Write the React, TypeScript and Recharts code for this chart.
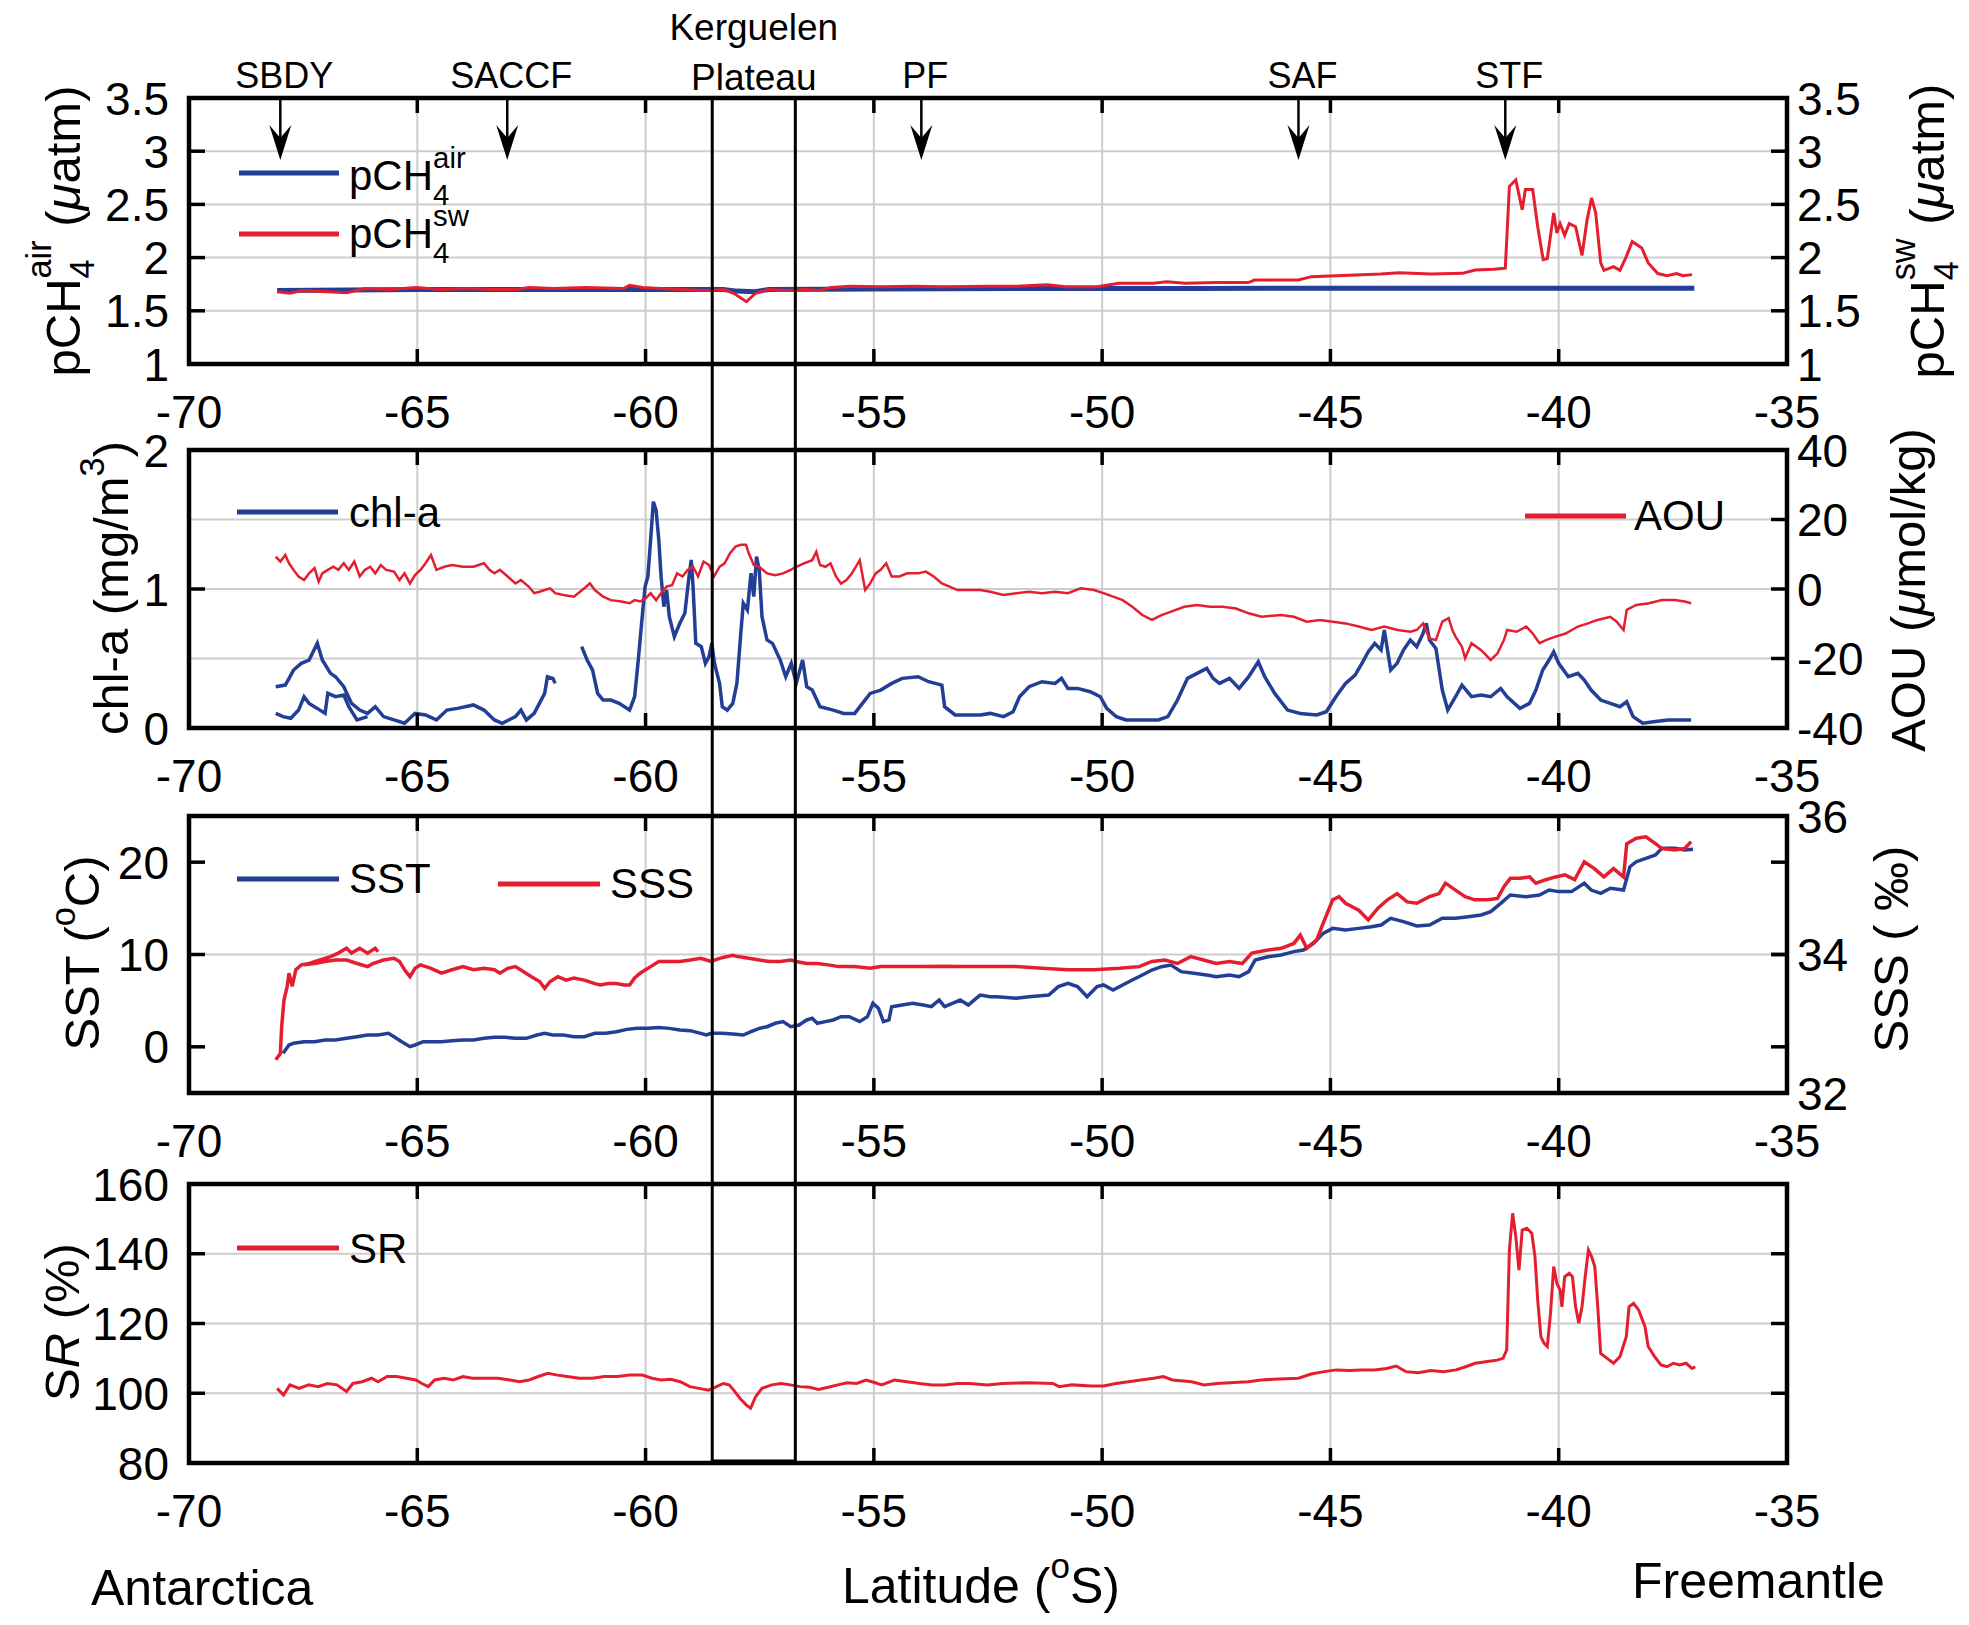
import React from 'react';
import { LineChart, Line, XAxis, YAxis, CartesianGrid, ReferenceLine, ReferenceArea, Legend } from 'recharts';

const FONT = '"Liberation Sans", Arial, Helvetica, sans-serif';
const BLUE = '#233f95';
const RED = '#e41e2e';
const GRID = '#cdcdcd';

const W = 1969;
const H = 1625;
const PL = 189;
const PR = 1787;
const AXW = 120;

// ---------- axis ticks ----------
const latTicks = [-70, -65, -60, -55, -50, -45, -40, -35];
const pchTicks = [1, 1.5, 2, 2.5, 3, 3.5];
const chlTicks = [0, 1, 2];
const aouTicks = [-40, -20, 0, 20, 40];
const sstTicks = [0, 10, 20];
const sssTicks = [32, 34, 36];
const srTicks = [80, 100, 120, 140, 160];

// ---------- annotations ----------
const fronts = [
  { name: 'SBDY', lat: -68.0 },
  { name: 'SACCF', lat: -63.03 },
  { name: 'PF', lat: -53.96 },
  { name: 'SAF', lat: -45.7 },
  { name: 'STF', lat: -41.17 },
];
const kerguelen = [-58.54, -56.72];

type Pt = [number, number | null];

// ---------- series (latitude, value) ----------
const pch4AirPts: Pt[] = [
  [-68.07, 1.69], [-66.5, 1.695], [-65.0, 1.7], [-62.0, 1.7], [-59.0, 1.7], [-58.3, 1.7], [-58.0, 1.685],
  [-57.6, 1.68], [-57.3, 1.7], [-55.0, 1.705], [-52.0, 1.71], [-48.0, 1.71], [-44.0, 1.712], [-40.0, 1.712], [-37.03, 1.712],
];

const pch4SwPts: Pt[] = [
  [-68.07, 1.68], [-67.79, 1.665], [-67.52, 1.69], [-66.97, 1.68], [-66.55, 1.67], [-66.14, 1.71], [-65.59, 1.7],
  [-65.03, 1.72], [-64.48, 1.7], [-63.93, 1.71], [-63.38, 1.7], [-62.83, 1.7], [-62.55, 1.72], [-62.0, 1.71],
  [-61.31, 1.72], [-60.48, 1.71], [-60.35, 1.74], [-60.07, 1.72], [-59.24, 1.7], [-58.69, 1.69], [-58.28, 1.7],
  [-58.07, 1.665], [-57.79, 1.586], [-57.59, 1.665], [-57.31, 1.7], [-56.9, 1.69], [-56.48, 1.7], [-56.21, 1.69],
  [-55.93, 1.72], [-55.52, 1.73], [-54.83, 1.727], [-54.14, 1.73], [-53.45, 1.727], [-52.51, 1.73], [-51.9, 1.73],
  [-51.21, 1.745], [-50.8, 1.727], [-50.11, 1.727], [-49.63, 1.758], [-48.87, 1.758], [-48.59, 1.774], [-48.18, 1.758],
  [-47.49, 1.765], [-46.8, 1.765], [-46.66, 1.789], [-45.7, 1.789], [-45.42, 1.821], [-45.01, 1.827], [-44.45, 1.836],
  [-43.9, 1.846], [-43.49, 1.858], [-42.8, 1.846], [-42.11, 1.852], [-41.83, 1.884], [-41.42, 1.89], [-41.17, 1.9],
  [-41.08, 2.67], [-40.94, 2.73], [-40.8, 2.45], [-40.73, 2.64], [-40.57, 2.64], [-40.46, 2.29], [-40.34, 1.98],
  [-40.25, 1.99], [-40.11, 2.42], [-40.04, 2.23], [-39.97, 2.32], [-39.87, 2.21], [-39.77, 2.32], [-39.63, 2.29],
  [-39.49, 2.02], [-39.38, 2.35], [-39.28, 2.56], [-39.19, 2.42], [-39.08, 1.95], [-39.01, 1.88], [-38.8, 1.915],
  [-38.66, 1.88], [-38.52, 2.01], [-38.39, 2.15], [-38.18, 2.09], [-38.04, 1.95], [-37.83, 1.85], [-37.63, 1.83],
  [-37.42, 1.85], [-37.28, 1.83], [-37.08, 1.84],
];

const chlPts: Pt[] = [
  // first pass
  [-68.1, 0.297], [-67.89, 0.309], [-67.71, 0.417], [-67.54, 0.465], [-67.37, 0.489], [-67.19, 0.609], [-67.08, 0.489],
  [-66.9, 0.393], [-66.79, 0.369], [-66.61, 0.297], [-66.44, 0.177], [-66.26, 0.129], [-66.09, 0.105], [-65.92, 0.153],
  [-65.74, 0.082], [-65.51, 0.058], [-65.28, 0.034], [-65.05, 0.105], [-64.82, 0.094], [-64.58, 0.058], [-64.35, 0.129],
  [-64.12, 0.141], [-63.77, 0.166], [-63.54, 0.129], [-63.31, 0.058], [-63.14, 0.034], [-62.85, 0.082], [-62.73, 0.129],
  [-62.61, 0.058], [-62.44, 0.105], [-62.21, 0.249], [-62.15, 0.369], [-62.03, 0.357], [-61.98, 0.321],
  [-61.95, null],
  // second pass near the ice edge
  [-68.1, 0.105], [-67.94, 0.082], [-67.77, 0.07], [-67.6, 0.129], [-67.48, 0.225], [-67.37, 0.177], [-67.19, 0.141],
  [-67.02, 0.105], [-66.96, 0.249], [-66.79, 0.225], [-66.61, 0.237], [-66.5, 0.153], [-66.32, 0.058], [-66.09, 0.082],
  [-66.0, null],
  // main track
  [-61.4, 0.585], [-61.28, 0.489], [-61.16, 0.417], [-61.05, 0.249], [-60.93, 0.201], [-60.76, 0.201], [-60.58, 0.177],
  [-60.35, 0.129], [-60.24, 0.225], [-60.16, 0.489], [-60.06, 0.849], [-60.01, 1.017], [-59.95, 1.089], [-59.89, 1.352],
  [-59.83, 1.628], [-59.77, 1.568], [-59.71, 1.352], [-59.66, 1.089], [-59.6, 0.873], [-59.54, 0.993], [-59.48, 0.801],
  [-59.37, 0.657], [-59.25, 0.753], [-59.14, 0.825], [-59.04, 1.113], [-59.0, 1.209], [-58.96, 1.017], [-58.9, 0.609],
  [-58.78, 0.585], [-58.69, 0.465], [-58.61, 0.513], [-58.55, 0.609], [-58.49, 0.465], [-58.38, 0.321], [-58.32, 0.153],
  [-58.21, 0.129], [-58.09, 0.177], [-58.0, 0.321], [-57.92, 0.657], [-57.86, 0.897], [-57.77, 0.849], [-57.69, 1.113],
  [-57.63, 0.945], [-57.57, 1.233], [-57.51, 1.137], [-57.45, 0.801], [-57.34, 0.633], [-57.22, 0.609], [-57.05, 0.489],
  [-56.93, 0.369], [-56.81, 0.465], [-56.7, 0.321], [-56.56, 0.489], [-56.47, 0.297], [-56.35, 0.273], [-56.18, 0.153],
  [-55.89, 0.129], [-55.66, 0.105], [-55.42, 0.105], [-55.25, 0.177], [-55.08, 0.249], [-54.85, 0.273], [-54.61, 0.321],
  [-54.38, 0.357], [-54.03, 0.369], [-53.8, 0.333], [-53.51, 0.309], [-53.45, 0.153], [-53.22, 0.094], [-52.67, 0.094],
  [-52.45, 0.105], [-52.16, 0.082], [-51.95, 0.117], [-51.81, 0.225], [-51.6, 0.297], [-51.32, 0.333], [-51.03, 0.321],
  [-50.89, 0.357], [-50.75, 0.285], [-50.54, 0.285], [-50.26, 0.261], [-50.04, 0.225], [-49.9, 0.141], [-49.69, 0.082],
  [-49.48, 0.058], [-49.2, 0.058], [-48.77, 0.058], [-48.56, 0.082], [-48.35, 0.201], [-48.13, 0.357], [-47.92, 0.393],
  [-47.71, 0.429], [-47.57, 0.357], [-47.43, 0.321], [-47.21, 0.357], [-47.0, 0.285], [-46.79, 0.369], [-46.58, 0.477],
  [-46.44, 0.369], [-46.22, 0.249], [-45.94, 0.129], [-45.66, 0.105], [-45.3, 0.094], [-45.09, 0.117], [-44.88, 0.225],
  [-44.67, 0.321], [-44.46, 0.381], [-44.31, 0.465], [-44.17, 0.549], [-44.03, 0.609], [-43.89, 0.561], [-43.82, 0.705],
  [-43.68, 0.417], [-43.54, 0.465], [-43.4, 0.561], [-43.25, 0.633], [-43.11, 0.585], [-42.97, 0.681], [-42.9, 0.753],
  [-42.83, 0.633], [-42.69, 0.573], [-42.55, 0.273], [-42.43, 0.129], [-42.26, 0.225], [-42.12, 0.309], [-41.91, 0.225],
  [-41.7, 0.237], [-41.49, 0.225], [-41.27, 0.285], [-41.13, 0.225], [-40.85, 0.141], [-40.64, 0.177], [-40.5, 0.273],
  [-40.35, 0.417], [-40.21, 0.489], [-40.11, 0.549], [-40.0, 0.465], [-39.79, 0.369], [-39.58, 0.393], [-39.44, 0.345],
  [-39.29, 0.273], [-39.08, 0.201], [-38.87, 0.177], [-38.66, 0.153], [-38.51, 0.189], [-38.37, 0.082], [-38.16, 0.034],
  [-37.88, 0.046], [-37.6, 0.058], [-37.31, 0.058], [-37.1, 0.058],
];

const aouPts: Pt[] = [
  [-68.1, 9.3], [-68.0, 7.9], [-67.89, 9.8], [-67.81, 7.4], [-67.71, 5.5], [-67.6, 3.6], [-67.48, 2.6], [-67.37, 4.5],
  [-67.25, 6.0], [-67.16, 2.1], [-67.08, 4.5], [-66.96, 5.5], [-66.84, 6.4], [-66.73, 5.5], [-66.61, 7.4], [-66.5, 5.5],
  [-66.38, 7.9], [-66.26, 3.6], [-66.15, 5.5], [-66.03, 6.4], [-65.92, 4.5], [-65.8, 6.9], [-65.68, 5.5], [-65.51, 5.0],
  [-65.39, 2.6], [-65.28, 4.5], [-65.16, 1.6], [-65.05, 4.0], [-64.93, 5.5], [-64.82, 7.4], [-64.7, 9.8], [-64.58, 5.5],
  [-64.41, 6.4], [-64.24, 6.9], [-64.0, 6.4], [-63.77, 6.4], [-63.54, 7.4], [-63.42, 5.5], [-63.31, 4.5], [-63.19, 5.5],
  [-63.02, 3.6], [-62.85, 1.6], [-62.73, 2.6], [-62.56, 0.7], [-62.44, -1.2], [-62.32, -0.8], [-62.21, -0.3], [-62.09, 0.2],
  [-61.98, -1.2], [-61.8, -1.7], [-61.57, -2.2], [-61.34, 0.2], [-61.22, 1.6], [-61.11, -0.3], [-60.93, -2.2], [-60.76, -3.2],
  [-60.53, -3.6], [-60.35, -4.1], [-60.24, -3.2], [-60.12, -3.6], [-60.0, -2.7], [-59.89, -1.2], [-59.77, -3.2], [-59.66, -1.2],
  [-59.54, 0.7], [-59.42, 1.1], [-59.31, 4.5], [-59.19, 3.6], [-59.08, 5.5], [-58.96, 6.4], [-58.85, 3.6], [-58.73, 7.9],
  [-58.61, 6.9], [-58.5, 3.6], [-58.38, 6.4], [-58.27, 7.4], [-58.15, 10.3], [-58.03, 12.2], [-57.92, 12.7], [-57.8, 12.7],
  [-57.74, 10.3], [-57.63, 6.9], [-57.51, 6.4], [-57.34, 4.5], [-57.16, 4.0], [-56.99, 4.5], [-56.82, 5.5], [-56.7, 6.4],
  [-56.53, 7.4], [-56.35, 8.3], [-56.26, 10.7], [-56.18, 6.9], [-56.06, 6.4], [-55.95, 7.4], [-55.83, 3.6], [-55.72, 1.6],
  [-55.6, 2.6], [-55.48, 4.5], [-55.31, 8.3], [-55.19, -0.3], [-55.08, 1.6], [-54.96, 4.5], [-54.85, 5.5], [-54.73, 7.4],
  [-54.61, 3.6], [-54.44, 3.6], [-54.27, 4.5], [-54.03, 4.5], [-53.86, 5.0], [-53.69, 3.6], [-53.51, 1.6], [-53.34, 0.7],
  [-53.17, -0.3], [-52.93, -0.3], [-52.67, -0.3], [-52.45, -0.8], [-52.16, -1.7], [-51.88, -1.2], [-51.6, -0.8],
  [-51.32, -1.2], [-51.03, -0.8], [-50.75, -1.2], [-50.47, 0.2], [-50.18, -0.3], [-49.97, -1.2], [-49.76, -2.2],
  [-49.55, -3.2], [-49.34, -5.1], [-49.12, -7.5], [-48.91, -8.9], [-48.7, -7.5], [-48.49, -6.5], [-48.2, -5.1],
  [-47.92, -4.6], [-47.64, -5.1], [-47.36, -5.1], [-47.07, -5.6], [-46.79, -7.0], [-46.51, -8.0], [-46.08, -7.5],
  [-45.8, -8.0], [-45.52, -9.4], [-45.23, -8.9], [-44.95, -9.4], [-44.67, -9.9], [-44.38, -10.8], [-44.1, -11.8],
  [-43.82, -10.8], [-43.53, -11.8], [-43.25, -12.3], [-43.11, -11.8], [-42.97, -9.9], [-42.83, -14.2], [-42.69, -14.7],
  [-42.55, -9.4], [-42.41, -8.4], [-42.33, -11.8], [-42.26, -13.7], [-42.12, -16.6], [-42.05, -19.9], [-41.91, -15.6],
  [-41.7, -17.6], [-41.49, -20.4], [-41.34, -18.5], [-41.2, -14.7], [-41.13, -11.8], [-40.92, -12.3], [-40.71, -10.8],
  [-40.57, -12.8], [-40.42, -15.6], [-40.28, -14.7], [-40.07, -13.7], [-39.85, -12.8], [-39.58, -10.8], [-39.36, -9.9],
  [-39.15, -8.9], [-38.87, -8.0], [-38.73, -9.4], [-38.58, -11.8], [-38.51, -6.0], [-38.3, -4.6], [-38.02, -4.1],
  [-37.74, -3.2], [-37.46, -3.2], [-37.24, -3.6], [-37.1, -4.1],
];

const sstPts: Pt[] = [
  [-67.94, -0.7], [-67.81, 0.2], [-67.71, 0.38], [-67.48, 0.56], [-67.25, 0.56], [-67.02, 0.74], [-66.79, 0.74],
  [-66.55, 0.92], [-66.32, 1.1], [-66.09, 1.28], [-65.86, 1.28], [-65.63, 1.46], [-65.51, 1.1], [-65.34, 0.56],
  [-65.16, 0.02], [-65.05, 0.2], [-64.87, 0.56], [-64.7, 0.56], [-64.47, 0.56], [-64.24, 0.67], [-64.0, 0.74],
  [-63.77, 0.74], [-63.54, 0.92], [-63.31, 1.03], [-63.08, 1.03], [-62.85, 0.92], [-62.61, 0.92], [-62.38, 1.28],
  [-62.21, 1.46], [-62.03, 1.28], [-61.8, 1.28], [-61.57, 1.1], [-61.34, 1.1], [-61.11, 1.46], [-60.87, 1.46],
  [-60.64, 1.64], [-60.41, 1.89], [-60.18, 2.0], [-59.95, 2.0], [-59.71, 2.08], [-59.48, 2.0], [-59.25, 1.82],
  [-59.02, 1.75], [-58.79, 1.46], [-58.67, 1.28], [-58.56, 1.46], [-58.32, 1.46], [-58.09, 1.39], [-57.86, 1.28],
  [-57.69, 1.64], [-57.51, 2.0], [-57.34, 2.18], [-57.16, 2.55], [-56.99, 2.73], [-56.82, 2.18], [-56.64, 2.36],
  [-56.47, 2.91], [-56.35, 3.09], [-56.24, 2.55], [-56.06, 2.73], [-55.89, 2.91], [-55.72, 3.27], [-55.54, 3.27],
  [-55.31, 2.73], [-55.14, 3.27], [-55.02, 4.71], [-54.9, 4.17], [-54.79, 2.73], [-54.67, 2.91], [-54.61, 4.35],
  [-54.38, 4.53], [-54.15, 4.71], [-53.92, 4.53], [-53.74, 4.35], [-53.57, 5.07], [-53.45, 4.35], [-53.28, 4.71],
  [-53.11, 5.07], [-52.93, 4.53], [-52.76, 5.25], [-52.67, 5.61], [-52.45, 5.43], [-52.31, 5.43], [-51.88, 5.25],
  [-51.6, 5.43], [-51.17, 5.61], [-50.96, 6.52], [-50.75, 6.88], [-50.54, 6.52], [-50.33, 5.43], [-50.11, 6.52],
  [-49.97, 6.7], [-49.76, 6.16], [-49.55, 6.7], [-49.34, 7.24], [-49.12, 7.78], [-48.91, 8.32], [-48.7, 8.68],
  [-48.49, 8.86], [-48.27, 8.14], [-47.99, 7.96], [-47.71, 7.78], [-47.5, 7.6], [-47.21, 7.78], [-47.0, 7.6],
  [-46.79, 8.14], [-46.65, 9.4], [-46.37, 9.76], [-46.08, 9.95], [-45.8, 10.31], [-45.59, 10.49], [-45.37, 11.21],
  [-45.16, 12.29], [-44.95, 12.83], [-44.67, 12.65], [-44.38, 12.83], [-44.1, 13.01], [-43.89, 13.19], [-43.68, 13.92],
  [-43.4, 13.56], [-43.11, 13.09], [-42.83, 13.19], [-42.55, 13.92], [-42.26, 13.92], [-41.98, 14.1], [-41.7, 14.28],
  [-41.49, 14.64], [-41.27, 15.54], [-41.06, 16.44], [-40.71, 16.26], [-40.42, 16.44], [-40.21, 16.98], [-40.0, 16.81],
  [-39.72, 16.81], [-39.44, 17.71], [-39.29, 16.98], [-39.08, 16.62], [-38.87, 17.17], [-38.58, 16.98], [-38.44, 19.51],
  [-38.3, 20.05], [-38.09, 20.42], [-37.88, 20.78], [-37.74, 21.5], [-37.46, 21.5], [-37.24, 21.32], [-37.06, 21.39],
];

const sssPts: Pt[] = [
  // rise off the ice edge and first pass
  [-68.1, 32.48], [-68.0, 32.57], [-67.97, 32.96], [-67.92, 33.34], [-67.85, 33.54], [-67.81, 33.73], [-67.74, 33.54],
  [-67.66, 33.78], [-67.54, 33.85], [-67.37, 33.87], [-67.13, 33.92], [-66.9, 33.97], [-66.73, 34.02], [-66.55, 34.09],
  [-66.44, 34.02], [-66.26, 34.09], [-66.09, 34.02], [-65.92, 34.09], [-65.86, 34.04],
  [-65.8, null],
  // main track
  [-67.48, 33.85], [-67.25, 33.87], [-67.02, 33.9], [-66.79, 33.92], [-66.55, 33.92], [-66.32, 33.87], [-66.09, 33.825],
  [-65.97, 33.87], [-65.74, 33.92], [-65.51, 33.945], [-65.39, 33.9], [-65.28, 33.78], [-65.16, 33.68], [-65.05, 33.8],
  [-64.93, 33.85], [-64.7, 33.8], [-64.47, 33.73], [-64.24, 33.78], [-64.0, 33.825], [-63.77, 33.78], [-63.54, 33.8],
  [-63.31, 33.78], [-63.19, 33.73], [-63.02, 33.8], [-62.85, 33.825], [-62.67, 33.75], [-62.5, 33.68], [-62.32, 33.61],
  [-62.21, 33.51], [-62.09, 33.61], [-61.92, 33.68], [-61.74, 33.63], [-61.57, 33.66], [-61.34, 33.63], [-61.11, 33.58],
  [-60.99, 33.56], [-60.82, 33.58], [-60.64, 33.58], [-60.47, 33.56], [-60.35, 33.56], [-60.24, 33.66], [-60.12, 33.73],
  [-60.0, 33.78], [-59.89, 33.825], [-59.71, 33.9], [-59.48, 33.9], [-59.25, 33.9], [-59.02, 33.92], [-58.79, 33.945],
  [-58.67, 33.92], [-58.56, 33.9], [-58.38, 33.945], [-58.21, 33.97], [-58.09, 33.99], [-57.98, 33.97], [-57.74, 33.945],
  [-57.51, 33.92], [-57.28, 33.9], [-57.05, 33.9], [-56.82, 33.92], [-56.7, 33.9], [-56.47, 33.87], [-56.24, 33.87],
  [-56.0, 33.85], [-55.77, 33.825], [-55.43, 33.825], [-55.08, 33.8], [-54.85, 33.825], [-54.38, 33.825], [-53.92, 33.825],
  [-53.45, 33.83], [-53.11, 33.825], [-52.67, 33.825], [-52.45, 33.825], [-51.88, 33.825], [-51.32, 33.8], [-50.75, 33.78],
  [-50.18, 33.78], [-49.62, 33.8], [-49.19, 33.825], [-48.91, 33.9], [-48.63, 33.92], [-48.35, 33.87], [-48.06, 33.97],
  [-47.78, 33.92], [-47.5, 33.87], [-47.21, 33.9], [-46.93, 33.87], [-46.72, 34.02], [-46.37, 34.065], [-46.08, 34.09],
  [-45.8, 34.16], [-45.66, 34.28], [-45.52, 34.09], [-45.3, 34.21], [-45.16, 34.45], [-44.95, 34.79], [-44.81, 34.835],
  [-44.67, 34.74], [-44.38, 34.64], [-44.17, 34.5], [-43.96, 34.67], [-43.75, 34.79], [-43.54, 34.88], [-43.32, 34.76],
  [-43.11, 34.74], [-42.83, 34.835], [-42.62, 34.88], [-42.48, 35.03], [-42.26, 34.93], [-42.05, 34.835], [-41.84, 34.79],
  [-41.56, 34.79], [-41.34, 34.81], [-41.2, 34.98], [-41.06, 35.1], [-40.85, 35.1], [-40.64, 35.12], [-40.5, 35.03],
  [-40.28, 35.08], [-40.07, 35.12], [-39.86, 35.15], [-39.65, 35.08], [-39.44, 35.34], [-39.22, 35.24], [-39.01, 35.12],
  [-38.8, 35.24], [-38.58, 35.12], [-38.51, 35.6], [-38.3, 35.68], [-38.09, 35.7], [-37.88, 35.6], [-37.74, 35.53],
  [-37.46, 35.51], [-37.24, 35.53], [-37.1, 35.63],
];

const srPts: Pt[] = [
  [-68.07, 101.4], [-67.93, 99.5], [-67.79, 102.4], [-67.59, 101.4], [-67.38, 102.4], [-67.17, 101.9], [-66.97, 102.8],
  [-66.76, 102.4], [-66.55, 100.5], [-66.41, 102.8], [-66.21, 103.3], [-66.0, 104.3], [-65.86, 103.3], [-65.66, 104.8],
  [-65.45, 104.8], [-65.24, 104.3], [-65.03, 103.8], [-64.9, 102.8], [-64.76, 101.9], [-64.62, 103.8], [-64.41, 104.3],
  [-64.21, 103.8], [-64.0, 104.8], [-63.79, 104.3], [-63.52, 104.3], [-63.24, 104.3], [-62.97, 103.8], [-62.76, 103.3],
  [-62.55, 103.8], [-62.35, 104.8], [-62.14, 105.7], [-61.93, 105.2], [-61.72, 104.8], [-61.45, 104.3], [-61.17, 104.3],
  [-60.9, 104.8], [-60.62, 104.8], [-60.35, 105.2], [-60.07, 105.2], [-59.86, 104.3], [-59.66, 103.8], [-59.45, 104.0],
  [-59.24, 103.3], [-59.03, 101.9], [-58.83, 101.4], [-58.62, 100.9], [-58.48, 101.7], [-58.3, 102.8], [-58.17, 102.4],
  [-58.07, 100.9], [-57.93, 98.5], [-57.79, 96.6], [-57.7, 95.7], [-57.59, 99.0], [-57.45, 101.4], [-57.24, 102.4],
  [-57.03, 102.8], [-56.83, 102.4], [-56.62, 101.9], [-56.41, 101.7], [-56.21, 101.1], [-56.0, 101.7], [-55.79, 102.4],
  [-55.59, 103.0], [-55.38, 102.8], [-55.17, 103.8], [-54.97, 103.0], [-54.83, 102.4], [-54.55, 103.8], [-54.28, 103.3],
  [-54.0, 102.8], [-53.72, 102.4], [-53.45, 102.4], [-53.17, 102.8], [-52.9, 102.8], [-52.51, 102.4], [-52.18, 102.8],
  [-51.63, 103.0], [-51.08, 102.8], [-50.94, 101.9], [-50.66, 102.4], [-50.25, 102.1], [-49.97, 102.1], [-49.7, 102.8],
  [-49.42, 103.3], [-49.15, 103.8], [-48.87, 104.3], [-48.66, 104.8], [-48.46, 103.8], [-48.04, 103.3], [-47.77, 102.4],
  [-47.49, 102.8], [-47.21, 103.0], [-46.8, 103.3], [-46.52, 103.8], [-46.25, 104.0], [-45.7, 104.3], [-45.42, 105.5],
  [-45.14, 106.2], [-44.87, 106.7], [-44.59, 106.5], [-44.32, 106.7], [-44.04, 106.7], [-43.77, 107.1], [-43.56, 107.8],
  [-43.35, 106.2], [-43.08, 105.9], [-42.8, 106.5], [-42.52, 106.2], [-42.25, 106.7], [-42.04, 107.6], [-41.83, 108.6],
  [-41.56, 109.1], [-41.35, 109.5], [-41.22, 110.0], [-41.14, 112.4], [-41.08, 141.1], [-41.01, 151.6], [-40.94, 144.9],
  [-40.87, 135.3], [-40.8, 146.8], [-40.7, 147.3], [-40.59, 145.9], [-40.52, 139.2], [-40.46, 126.7], [-40.39, 116.2],
  [-40.32, 114.3], [-40.25, 113.4], [-40.18, 122.9], [-40.11, 136.3], [-40.04, 131.5], [-39.97, 129.6], [-39.93, 124.8],
  [-39.87, 133.4], [-39.77, 134.4], [-39.7, 133.4], [-39.63, 124.8], [-39.56, 120.1], [-39.49, 124.8], [-39.42, 133.4],
  [-39.35, 141.1], [-39.28, 139.2], [-39.21, 136.3], [-39.15, 125.8], [-39.08, 111.4], [-38.94, 110.0], [-38.8, 108.6],
  [-38.66, 110.5], [-38.52, 116.2], [-38.46, 124.8], [-38.36, 125.8], [-38.25, 123.9], [-38.11, 119.1], [-38.04, 113.4],
  [-37.9, 110.5], [-37.76, 108.1], [-37.63, 107.6], [-37.49, 108.6], [-37.35, 108.1], [-37.21, 108.6], [-37.08, 107.1],
  [-37.01, 107.6],
];

const rows = (pts: Pt[]) => pts.map(([lat, v]) => ({ lat, v }));

// ---------- text helpers ----------
type Part = { t: string; k?: 'sub' | 'sup' | 'it'; back?: number };

function RichText(props: {
  x: number; y: number; size: number; parts: Part[]; rotate?: boolean; anchor?: 'start' | 'middle' | 'end';
  subDy?: number; supDy?: number;
}) {
  const { x, y, size, parts, rotate = false, anchor = 'start', subDy = 0.32, supDy = -0.55 } = props;
  let shift = 0;
  const spans = parts.map((p, i) => {
    const small = p.k === 'sub' || p.k === 'sup';
    const target = p.k === 'sub' ? subDy * size : p.k === 'sup' ? supDy * size : 0;
    const dy = target - shift;
    shift = target;
    const dx = p.back ? -p.back * size * 0.7 : 0;
    return (
      <tspan key={i} dx={dx || undefined} dy={dy || undefined} fontSize={small ? size * 0.7 : size}
        fontStyle={p.k === 'it' ? 'italic' : undefined}>{p.t}</tspan>
    );
  });
  return (
    <text x={x} y={y} transform={rotate ? `rotate(-90 ${x} ${y})` : undefined} textAnchor={anchor}
      fontFamily={FONT} fontSize={size} fill="#000" style={{ whiteSpace: 'pre' }}>{spans}</text>
  );
}

// ---------- tick renderers ----------
const xTick = (pt: number, pb: number) => (props: any) => {
  const { x, payload } = props;
  return (
    <g>
      <line x1={x} x2={x} y1={pb} y2={pb - 15} stroke="#000" strokeWidth={3.5} />
      <line x1={x} x2={x} y1={pt} y2={pt + 15} stroke="#000" strokeWidth={3.5} />
      <text x={x} y={pb + 64} textAnchor="middle" fontFamily={FONT} fontSize={46} fill="#000">{payload.value}</text>
    </g>
  );
};

const yTick = (side: 'left' | 'right', mirror: boolean) => (props: any) => {
  const { y, payload } = props;
  const onLeft = side === 'left' || mirror;
  const onRight = side === 'right' || mirror;
  return (
    <g>
      {onLeft && <line x1={PL} x2={PL + 16} y1={y} y2={y} stroke="#000" strokeWidth={3.5} />}
      {onRight && <line x1={PR} x2={PR - 16} y1={y} y2={y} stroke="#000" strokeWidth={3.5} />}
      <text x={side === 'left' ? PL - 20 : PR + 10} y={y} dy="0.36em" textAnchor={side === 'left' ? 'end' : 'start'}
        fontFamily={FONT} fontSize={46} fill="#000">{payload.value}</text>
    </g>
  );
};

// ---------- legend ----------
type LegendSpec = { name: string; x1: number; x2: number; y: number; tx: number; ty: number; parts: Part[] };

const makeLegend = (chartTop: number, height: number, specs: LegendSpec[]) => (props: any) => {
  const payload: any[] = props.payload || [];
  return (
    <svg width={W} height={height} style={{ position: 'absolute', left: 0, top: 0, overflow: 'visible' }}>
      {specs.map((s) => {
        const entry = payload.find((e) => e.value === s.name);
        const color = entry ? entry.color : '#000';
        return (
          <g key={s.name}>
            <line x1={s.x1} x2={s.x2} y1={s.y - chartTop} y2={s.y - chartTop} stroke={color} strokeWidth={5} />
            <RichText x={s.tx} y={s.ty - chartTop} size={42} parts={s.parts} subDy={0.36} supDy={-0.52} />
          </g>
        );
      })}
    </svg>
  );
};

const legendWrap = (height: number) => ({
  position: 'absolute' as const, left: 0, top: 0, width: W, height, pointerEvents: 'none' as const,
});

// ---------- front arrows ----------
const frontShape = (name: string) => (p: any) => {
  const x = p.x1;
  const top = Math.min(p.y1, p.y2);
  return (
    <g>
      <line x1={x} x2={x} y1={top} y2={top + 50} stroke="#000" strokeWidth={2.5} />
      <path d={`M ${x} ${top + 62} L ${x - 11} ${top + 27} L ${x} ${top + 40} L ${x + 11} ${top + 27} Z`} fill="#000" />
      <text x={x + 4} y={88} textAnchor="middle" fontFamily={FONT} fontSize={36} fill="#000">{name}</text>
    </g>
  );
};

const lineCommon = { type: 'linear' as const, dot: false, activeDot: false, isAnimationActive: false, dataKey: 'v' };
const axisCommon = { tickLine: false, axisLine: false, interval: 0 as const, allowDataOverflow: true };

export default function App() {
  // panel 1 (plot 98..364)
  const c1Top = 0, c1H = 444, p1T = 98, p1B = 364;
  // panel 2 (plot 450..728)
  const c2Top = 410, c2H = 398, p2T = 40, p2B = 318;
  // panel 3 (plot 816..1093)
  const c3Top = 776, c3H = 397, p3T = 40, p3B = 317;
  // panel 4 (plot 1184..1463)
  const c4Top = 1144, c4H = 481, p4T = 40, p4B = 319;

  const mBase = { left: PL - AXW, right: W - PR - AXW };

  return (
    <div style={{ position: 'absolute', left: 0, top: 0, width: W, height: H, background: '#fff', overflow: 'hidden' }}>
      {/* Panel 1: pCH4 */}
      <div style={{ position: 'absolute', left: 0, top: c1Top }}>
        <LineChart width={W} height={c1H} margin={{ top: p1T, bottom: 0, ...mBase }}>
          <CartesianGrid yAxisId="left" stroke={GRID} strokeWidth={2} />
          <XAxis dataKey="lat" type="number" domain={[-70, -35]} ticks={latTicks} height={80} {...axisCommon}
            tick={xTick(p1T, p1B)} />
          <YAxis yAxisId="left" type="number" domain={[1, 3.5]} ticks={pchTicks} width={AXW} {...axisCommon}
            tick={yTick('left', false)}
            label={() => (
              <RichText x={80} y={231 - c1Top} size={49} rotate anchor="middle" supDy={-0.6} subDy={0.28}
                parts={[{ t: 'pCH' }, { t: '4', k: 'sub' }, { t: 'air', k: 'sup', back: 0.556 }, { t: ' (' }, { t: 'μ', k: 'it' }, { t: 'atm)' }]} />
            )} />
          <YAxis yAxisId="right" orientation="right" type="number" domain={[1, 3.5]} ticks={pchTicks} width={AXW} {...axisCommon}
            tick={yTick('right', false)}
            label={() => (
              <RichText x={1944} y={231 - c1Top} size={49} rotate anchor="middle" supDy={-0.6} subDy={0.28}
                parts={[{ t: 'pCH' }, { t: '4', k: 'sub' }, { t: 'sw', k: 'sup', back: 0.556 }, { t: ' (' }, { t: 'μ', k: 'it' }, { t: 'atm)' }]} />
            )} />
          <Line yAxisId="left" data={rows(pch4AirPts)} name="pCH4air" stroke={BLUE} strokeWidth={5} {...lineCommon} />
          <Line yAxisId="right" data={rows(pch4SwPts)} name="pCH4sw" stroke={RED} strokeWidth={3} {...lineCommon} />
          {fronts.map((f) => (
            <ReferenceLine key={f.name} x={f.lat} yAxisId="left" stroke="#000" ifOverflow="visible" shape={frontShape(f.name)} />
          ))}
          <ReferenceArea x1={-70} x2={-35} y1={1} y2={3.5} yAxisId="left" fill="none" fillOpacity={0} stroke="#000" strokeWidth={4.5} ifOverflow="visible" />
          <Legend layout="horizontal" verticalAlign="middle" align="center" wrapperStyle={legendWrap(c1H)}
            content={makeLegend(c1Top, c1H, [
              { name: 'pCH4air', x1: 239, x2: 339, y: 173, tx: 349, ty: 190, parts: [{ t: 'pCH' }, { t: '4', k: 'sub' }, { t: 'air', k: 'sup', back: 0.556 }] },
              { name: 'pCH4sw', x1: 239, x2: 339, y: 234, tx: 349, ty: 248, parts: [{ t: 'pCH' }, { t: '4', k: 'sub' }, { t: 'sw', k: 'sup', back: 0.556 }] },
            ])} />
        </LineChart>
      </div>

      {/* Panel 2: chl-a & AOU */}
      <div style={{ position: 'absolute', left: 0, top: c2Top }}>
        <LineChart width={W} height={c2H} margin={{ top: p2T, bottom: 0, ...mBase }}>
          <CartesianGrid yAxisId="right" stroke={GRID} strokeWidth={2} />
          <XAxis dataKey="lat" type="number" domain={[-70, -35]} ticks={latTicks} height={80} {...axisCommon}
            tick={xTick(p2T, p2B)} />
          <YAxis yAxisId="left" type="number" domain={[0, 2]} ticks={chlTicks} width={AXW} {...axisCommon}
            tick={yTick('left', false)}
            label={() => (
              <RichText x={128} y={588 - c2Top} size={49} rotate anchor="middle" supDy={-0.5}
                parts={[{ t: 'chl-a (mg/m' }, { t: '3', k: 'sup' }, { t: ')' }]} />
            )} />
          <YAxis yAxisId="right" orientation="right" type="number" domain={[-40, 40]} ticks={aouTicks} width={AXW} {...axisCommon}
            tick={yTick('right', false)}
            label={() => (
              <RichText x={1925} y={590 - c2Top} size={49} rotate anchor="middle"
                parts={[{ t: 'AOU (' }, { t: 'μ', k: 'it' }, { t: 'mol/kg)' }]} />
            )} />
          <Line yAxisId="left" data={rows(chlPts)} name="chl-a" stroke={BLUE} strokeWidth={3.5} {...lineCommon} />
          <Line yAxisId="right" data={rows(aouPts)} name="AOU" stroke={RED} strokeWidth={2.5} {...lineCommon} />
          <ReferenceArea x1={-70} x2={-35} y1={0} y2={2} yAxisId="left" fill="none" fillOpacity={0} stroke="#000" strokeWidth={4.5} ifOverflow="visible" />
          <Legend layout="horizontal" verticalAlign="middle" align="center" wrapperStyle={legendWrap(c2H)}
            content={makeLegend(c2Top, c2H, [
              { name: 'chl-a', x1: 237, x2: 338, y: 512, tx: 349, ty: 527, parts: [{ t: 'chl-a' }] },
              { name: 'AOU', x1: 1525, x2: 1626, y: 516, tx: 1634, ty: 530, parts: [{ t: 'AOU' }] },
            ])} />
        </LineChart>
      </div>

      {/* Panel 3: SST & SSS */}
      <div style={{ position: 'absolute', left: 0, top: c3Top }}>
        <LineChart width={W} height={c3H} margin={{ top: p3T, bottom: 0, ...mBase }}>
          <CartesianGrid yAxisId="right" stroke={GRID} strokeWidth={2} />
          <XAxis dataKey="lat" type="number" domain={[-70, -35]} ticks={latTicks} height={80} {...axisCommon}
            tick={xTick(p3T, p3B)} />
          <YAxis yAxisId="left" type="number" domain={[-5, 25]} ticks={sstTicks} width={AXW} {...axisCommon}
            tick={yTick('left', true)}
            label={() => (
              <RichText x={99} y={953 - c3Top} size={49} rotate anchor="middle" supDy={-0.5}
                parts={[{ t: 'SST (' }, { t: 'o', k: 'sup' }, { t: 'C)' }]} />
            )} />
          <YAxis yAxisId="right" orientation="right" type="number" domain={[32, 36]} ticks={sssTicks} width={AXW} {...axisCommon}
            tick={yTick('right', false)}
            label={() => (
              <RichText x={1908} y={949 - c3Top} size={49} rotate anchor="middle" parts={[{ t: 'SSS ( ‰)' }]} />
            )} />
          <Line yAxisId="left" data={rows(sstPts)} name="SST" stroke={BLUE} strokeWidth={3.5} {...lineCommon} />
          <Line yAxisId="right" data={rows(sssPts)} name="SSS" stroke={RED} strokeWidth={3.5} {...lineCommon} />
          <ReferenceArea x1={-70} x2={-35} y1={-5} y2={25} yAxisId="left" fill="none" fillOpacity={0} stroke="#000" strokeWidth={4.5} ifOverflow="visible" />
          <Legend layout="horizontal" verticalAlign="middle" align="center" wrapperStyle={legendWrap(c3H)}
            content={makeLegend(c3Top, c3H, [
              { name: 'SST', x1: 237, x2: 339, y: 879, tx: 349, ty: 893, parts: [{ t: 'SST' }] },
              { name: 'SSS', x1: 498, x2: 600, y: 884, tx: 610, ty: 898, parts: [{ t: 'SSS' }] },
            ])} />
        </LineChart>
      </div>

      {/* Panel 4: SR */}
      <div style={{ position: 'absolute', left: 0, top: c4Top }}>
        <LineChart width={W} height={c4H} margin={{ top: p4T, bottom: 82, left: PL - AXW, right: W - PR }}>
          <CartesianGrid stroke={GRID} strokeWidth={2} />
          <XAxis dataKey="lat" type="number" domain={[-70, -35]} ticks={latTicks} height={80} {...axisCommon}
            tick={xTick(p4T, p4B)}
            label={() => (
              <g>
                <RichText x={91} y={1605 - c4Top} size={50} parts={[{ t: 'Antarctica' }]} />
                <RichText x={842} y={1603 - c4Top} size={50} supDy={-0.5} parts={[{ t: 'Latitude (' }, { t: 'o', k: 'sup' }, { t: 'S)' }]} />
                <RichText x={1632} y={1598 - c4Top} size={50} parts={[{ t: 'Freemantle' }]} />
              </g>
            )} />
          <YAxis type="number" domain={[80, 160]} ticks={srTicks} width={AXW} {...axisCommon}
            tick={yTick('left', true)}
            label={() => (
              <RichText x={79} y={1322 - c4Top} size={49} rotate anchor="middle"
                parts={[{ t: 'S' }, { t: 'R', k: 'it' }, { t: ' (%)' }]} />
            )} />
          <Line data={rows(srPts)} name="SR" stroke={RED} strokeWidth={3} {...lineCommon} />
          <ReferenceArea x1={-70} x2={-35} y1={80} y2={160} fill="none" fillOpacity={0} stroke="#000" strokeWidth={4.5} ifOverflow="visible" />
          <Legend layout="horizontal" verticalAlign="middle" align="center" wrapperStyle={legendWrap(c4H)}
            content={makeLegend(c4Top, c4H, [
              { name: 'SR', x1: 237, x2: 339, y: 1248, tx: 349, ty: 1263, parts: [{ t: 'SR' }] },
            ])} />
        </LineChart>
      </div>

      {/* Kerguelen Plateau box spanning all panels */}
      <div style={{ position: 'absolute', left: 0, top: 0, pointerEvents: 'none' }}>
        <LineChart width={W} height={H} margin={{ top: 98, right: W - PR, bottom: H - 1461, left: PL }}>
          <XAxis dataKey="lat" type="number" domain={[-70, -35]} hide allowDataOverflow />
          <YAxis type="number" domain={[0, 1]} hide allowDataOverflow />
          <ReferenceArea x1={kerguelen[0]} x2={kerguelen[1]} y1={0} y2={1} fill="none" fillOpacity={0} stroke="#000"
            strokeWidth={3} ifOverflow="visible"
            label={(p: any) => {
              const vb = p && p.viewBox ? p.viewBox : { x: 0, width: 0 };
              const cx = vb.x + vb.width / 2;
              return (
                <g>
                  <text x={cx} y={40} textAnchor="middle" fontFamily={FONT} fontSize={37} fill="#000">Kerguelen</text>
                  <text x={cx} y={90} textAnchor="middle" fontFamily={FONT} fontSize={37} fill="#000">Plateau</text>
                </g>
              );
            }} />
        </LineChart>
      </div>
    </div>
  );
}
